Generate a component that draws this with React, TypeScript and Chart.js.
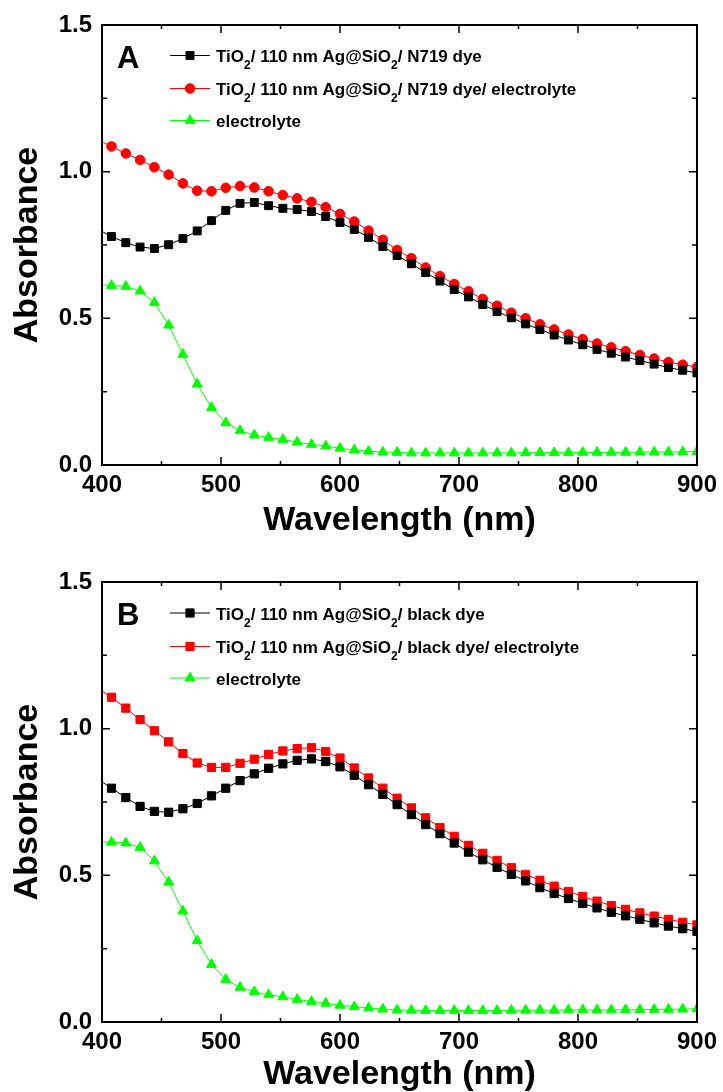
import { useEffect, useRef } from 'react';
import { Chart, registerables } from 'chart.js';

Chart.register(...registerables);

const FONT = '"Liberation Sans", Arial, Helvetica, sans-serif';

// Wavelength grid (nm)
const wavelengths = [
  396, 408, 420, 432, 444, 456, 468, 480, 492, 504, 516, 528, 540, 552, 564, 576, 588, 600, 612, 624, 636,
  648, 660, 672, 684, 696, 708, 720, 732, 744, 756, 768, 780, 792, 804, 816, 828, 840, 852, 864, 876, 888, 900,
];

// Panel A
const aDye = [
  0.805, 0.779, 0.758, 0.743, 0.738, 0.751, 0.772, 0.798, 0.833, 0.868, 0.892, 0.895, 0.884, 0.875, 0.871, 0.864, 0.847, 0.827, 0.803, 0.776, 0.745,
  0.714, 0.686, 0.656, 0.627, 0.598, 0.573, 0.547, 0.523, 0.502, 0.481, 0.462, 0.443, 0.426, 0.410, 0.394, 0.381, 0.368, 0.356, 0.344, 0.332, 0.323, 0.314,
];
const aDyeElectrolyte = [
  1.11, 1.086, 1.062, 1.040, 1.015, 0.990, 0.960, 0.935, 0.933, 0.945, 0.951, 0.946, 0.933, 0.920, 0.909, 0.897, 0.879, 0.856, 0.830, 0.799, 0.768,
  0.733, 0.705, 0.673, 0.644, 0.617, 0.592, 0.566, 0.543, 0.519, 0.500, 0.480, 0.462, 0.445, 0.429, 0.414, 0.401, 0.388, 0.375, 0.363, 0.351, 0.342, 0.334,
];
const aElectrolyte = [
  0.615, 0.612, 0.609, 0.593, 0.554, 0.477, 0.377, 0.276, 0.196, 0.144, 0.117, 0.102, 0.094, 0.087, 0.078, 0.070, 0.065, 0.057, 0.051, 0.047, 0.044,
  0.043, 0.041, 0.041, 0.041, 0.041, 0.041, 0.041, 0.041, 0.041, 0.042, 0.042, 0.042, 0.042, 0.043, 0.043, 0.043, 0.043, 0.044, 0.044, 0.044, 0.045, 0.046,
];

// Panel B
const bDye = [
  0.83, 0.797, 0.765, 0.735, 0.718, 0.715, 0.727, 0.745, 0.771, 0.797, 0.823, 0.846, 0.865, 0.880, 0.892, 0.897, 0.888, 0.870, 0.841, 0.809, 0.776,
  0.741, 0.707, 0.673, 0.642, 0.610, 0.579, 0.553, 0.527, 0.503, 0.481, 0.458, 0.438, 0.421, 0.404, 0.389, 0.374, 0.362, 0.350, 0.338, 0.327, 0.318, 0.309,
];
const bDyeElectrolyte = [
  1.14, 1.107, 1.070, 1.031, 0.993, 0.955, 0.915, 0.883, 0.868, 0.868, 0.882, 0.896, 0.912, 0.924, 0.932, 0.935, 0.922, 0.900, 0.866, 0.832, 0.797,
  0.763, 0.730, 0.696, 0.663, 0.633, 0.602, 0.575, 0.551, 0.526, 0.503, 0.483, 0.463, 0.445, 0.428, 0.412, 0.397, 0.384, 0.372, 0.361, 0.350, 0.340, 0.331,
];
const bElectrolyte = [
  0.615, 0.613, 0.610, 0.595, 0.549, 0.477, 0.378, 0.277, 0.196, 0.145, 0.118, 0.103, 0.093, 0.086, 0.077, 0.070, 0.064, 0.057, 0.052, 0.048, 0.044,
  0.041, 0.040, 0.039, 0.039, 0.039, 0.039, 0.039, 0.039, 0.040, 0.040, 0.040, 0.040, 0.041, 0.041, 0.041, 0.041, 0.042, 0.042, 0.043, 0.043, 0.044, 0.045,
];

const xTicksMajor = [400, 500, 600, 700, 800, 900];
const xTicksMinor = [450, 550, 650, 750, 850];
const yTicksMajor = [0, 0.5, 1.0, 1.5];
const yTicksMinor = [0.25, 0.75, 1.25];

type Seg = { t: string; sub?: boolean };
type SeriesDef = {
  label: Seg[];
  values: number[];
  color: string;
  style: 'rect' | 'circle' | 'triangle';
  radius: number;
};

const seriesA: SeriesDef[] = [
  {
    label: [{ t: 'TiO' }, { t: '2', sub: true }, { t: '/ 110 nm Ag@SiO' }, { t: '2', sub: true }, { t: '/ N719 dye' }],
    values: aDye, color: '#000000', style: 'rect', radius: 5.6,
  },
  {
    label: [{ t: 'TiO' }, { t: '2', sub: true }, { t: '/ 110 nm Ag@SiO' }, { t: '2', sub: true }, { t: '/ N719 dye/ electrolyte' }],
    values: aDyeElectrolyte, color: '#ff0000', style: 'circle', radius: 4.8,
  },
  {
    label: [{ t: 'electrolyte' }],
    values: aElectrolyte, color: '#00ff00', style: 'triangle', radius: 5.8,
  },
];

const seriesB: SeriesDef[] = [
  {
    label: [{ t: 'TiO' }, { t: '2', sub: true }, { t: '/ 110 nm Ag@SiO' }, { t: '2', sub: true }, { t: '/ black dye' }],
    values: bDye, color: '#000000', style: 'rect', radius: 5.8,
  },
  {
    label: [{ t: 'TiO' }, { t: '2', sub: true }, { t: '/ 110 nm Ag@SiO' }, { t: '2', sub: true }, { t: '/ black dye/ electrolyte' }],
    values: bDyeElectrolyte, color: '#ff0000', style: 'rect', radius: 5.8,
  },
  {
    label: [{ t: 'electrolyte' }],
    values: bElectrolyte, color: '#00ff00', style: 'triangle', radius: 5.8,
  },
];

function drawMarker(ctx: CanvasRenderingContext2D, style: string, x: number, y: number, r: number, color: string) {
  ctx.save();
  ctx.fillStyle = color;
  ctx.strokeStyle = color;
  ctx.lineWidth = 1;
  ctx.beginPath();
  if (style === 'rect') {
    const s = Math.SQRT1_2 * r;
    ctx.rect(x - s, y - s, 2 * s, 2 * s);
  } else if (style === 'circle') {
    ctx.arc(x, y, r, 0, Math.PI * 2);
  } else {
    let rad = 0;
    ctx.moveTo(x + Math.sin(rad) * r, y - Math.cos(rad) * r);
    rad += (2 * Math.PI) / 3;
    ctx.lineTo(x + Math.sin(rad) * r, y - Math.cos(rad) * r);
    rad += (2 * Math.PI) / 3;
    ctx.lineTo(x + Math.sin(rad) * r, y - Math.cos(rad) * r);
    ctx.closePath();
  }
  ctx.fill();
  ctx.stroke();
  ctx.restore();
}

function makeDecor(letter: string, series: SeriesDef[], rowOffsets: number[]) {
  return {
    id: 'decor' + letter,
    afterDraw(chart: any) {
      const ctx: CanvasRenderingContext2D = chart.ctx;
      const { left, right, top, bottom } = chart.chartArea;
      const xs = chart.scales.x;
      const ys = chart.scales.y;
      ctx.save();
      // frame
      ctx.strokeStyle = '#000';
      ctx.lineWidth = 2;
      ctx.strokeRect(left, top, right - left, bottom - top);
      // inward ticks
      ctx.lineWidth = 1.5;
      ctx.beginPath();
      const xt = (v: number, len: number) => {
        const p = xs.getPixelForValue(v);
        ctx.moveTo(p, bottom);
        ctx.lineTo(p, bottom - len);
        ctx.moveTo(p, top);
        ctx.lineTo(p, top + len);
      };
      const yt = (v: number, len: number) => {
        const p = ys.getPixelForValue(v);
        ctx.moveTo(left, p);
        ctx.lineTo(left + len, p);
        ctx.moveTo(right, p);
        ctx.lineTo(right - len, p);
      };
      xTicksMajor.forEach((v) => xt(v, 8));
      xTicksMinor.forEach((v) => xt(v, 4));
      yTicksMajor.forEach((v) => yt(v, 8));
      yTicksMinor.forEach((v) => yt(v, 5));
      ctx.stroke();

      // panel letter
      ctx.fillStyle = '#000';
      ctx.font = `bold 31px ${FONT}`;
      ctx.textBaseline = 'middle';
      ctx.textAlign = 'left';
      ctx.fillText(letter, 117, top + 34);

      // legend
      series.forEach((s, i) => {
        const y = top + rowOffsets[i];
        ctx.strokeStyle = s.color;
        ctx.lineWidth = 1.2;
        ctx.beginPath();
        ctx.moveTo(170, y);
        ctx.lineTo(210, y);
        ctx.stroke();
        drawMarker(ctx, s.style, 190, y, s.radius, s.color);
        let x = 216;
        const base = y + 6.5;
        ctx.fillStyle = '#000';
        ctx.textBaseline = 'alphabetic';
        s.label.forEach((seg) => {
          if (seg.sub) {
            ctx.font = `bold 12px ${FONT}`;
            ctx.fillText(seg.t, x, base + 7);
          } else {
            ctx.font = `bold 17px ${FONT}`;
            ctx.fillText(seg.t, x, base);
          }
          x += ctx.measureText(seg.t).width;
        });
      });
      ctx.restore();
    },
  };
}

function makeConfig(letter: string, series: SeriesDef[], xAxisHeight: number, titlePad: number, rows: number[]): any {
  return {
    type: 'line',
    data: {
      datasets: series.map((s) => ({
        label: s.label.map((g) => g.t).join(''),
        data: wavelengths.map((w, i) => ({ x: w, y: s.values[i] })),
        borderColor: s.color,
        backgroundColor: s.color,
        borderWidth: 1,
        pointStyle: s.style,
        pointRadius: s.radius,
        pointBorderWidth: 1,
        pointBackgroundColor: s.color,
        pointBorderColor: s.color,
        tension: 0,
        clip: 0,
      })),
    },
    options: {
      responsive: false,
      animation: false,
      events: [],
      layout: { padding: { top: 25, right: 26, left: 0, bottom: 0 } },
      plugins: { legend: { display: false }, tooltip: { enabled: false } },
      scales: {
        x: {
          type: 'linear',
          min: 400,
          max: 900,
          grid: { display: false, drawTicks: false },
          border: { display: false },
          ticks: {
            stepSize: 100,
            padding: 6,
            color: '#000',
            maxRotation: 0,
            font: { family: FONT, size: 24, weight: 'bold' },
          },
          title: {
            display: true,
            text: 'Wavelength (nm)',
            color: '#000',
            font: { family: FONT, size: 34, weight: 'bold', lineHeight: 1 },
            padding: { top: 0, bottom: titlePad },
          },
          afterFit: (s: any) => {
            s.height = xAxisHeight;
          },
        },
        y: {
          type: 'linear',
          min: 0,
          max: 1.5,
          grid: { display: false, drawTicks: false },
          border: { display: false },
          ticks: {
            stepSize: 0.5,
            padding: 10,
            color: '#000',
            font: { family: FONT, size: 24, weight: 'bold' },
            callback: (v: any) => Number(v).toFixed(1),
          },
          title: {
            display: true,
            text: 'Absorbance',
            color: '#000',
            font: { family: FONT, size: 34, weight: 'bold', lineHeight: 1 },
            padding: { top: 11, bottom: 0 },
          },
          afterFit: (s: any) => {
            s.width = 102;
          },
        },
      },
    },
    plugins: [makeDecor(letter, series, rows)],
  };
}

export default function App() {
  const refA = useRef<HTMLCanvasElement>(null);
  const refB = useRef<HTMLCanvasElement>(null);
  useEffect(() => {
    const a = new Chart(refA.current as HTMLCanvasElement, makeConfig('A', seriesA, 85, 12, [30.5, 63.5, 95.5]));
    const b = new Chart(refB.current as HTMLCanvasElement, makeConfig('B', seriesB, 70, 0, [31, 64.5, 96]));
    return () => {
      a.destroy();
      b.destroy();
    };
  }, []);
  return (
    <div style={{ position: 'absolute', left: 0, top: 0, width: 723, height: 1092, background: '#fff', overflow: 'hidden' }}>
      <canvas ref={refA} width={723} height={550} style={{ position: 'absolute', left: 0, top: 0 }} />
      <canvas ref={refB} width={723} height={535} style={{ position: 'absolute', left: 0, top: 557 }} />
    </div>
  );
}
